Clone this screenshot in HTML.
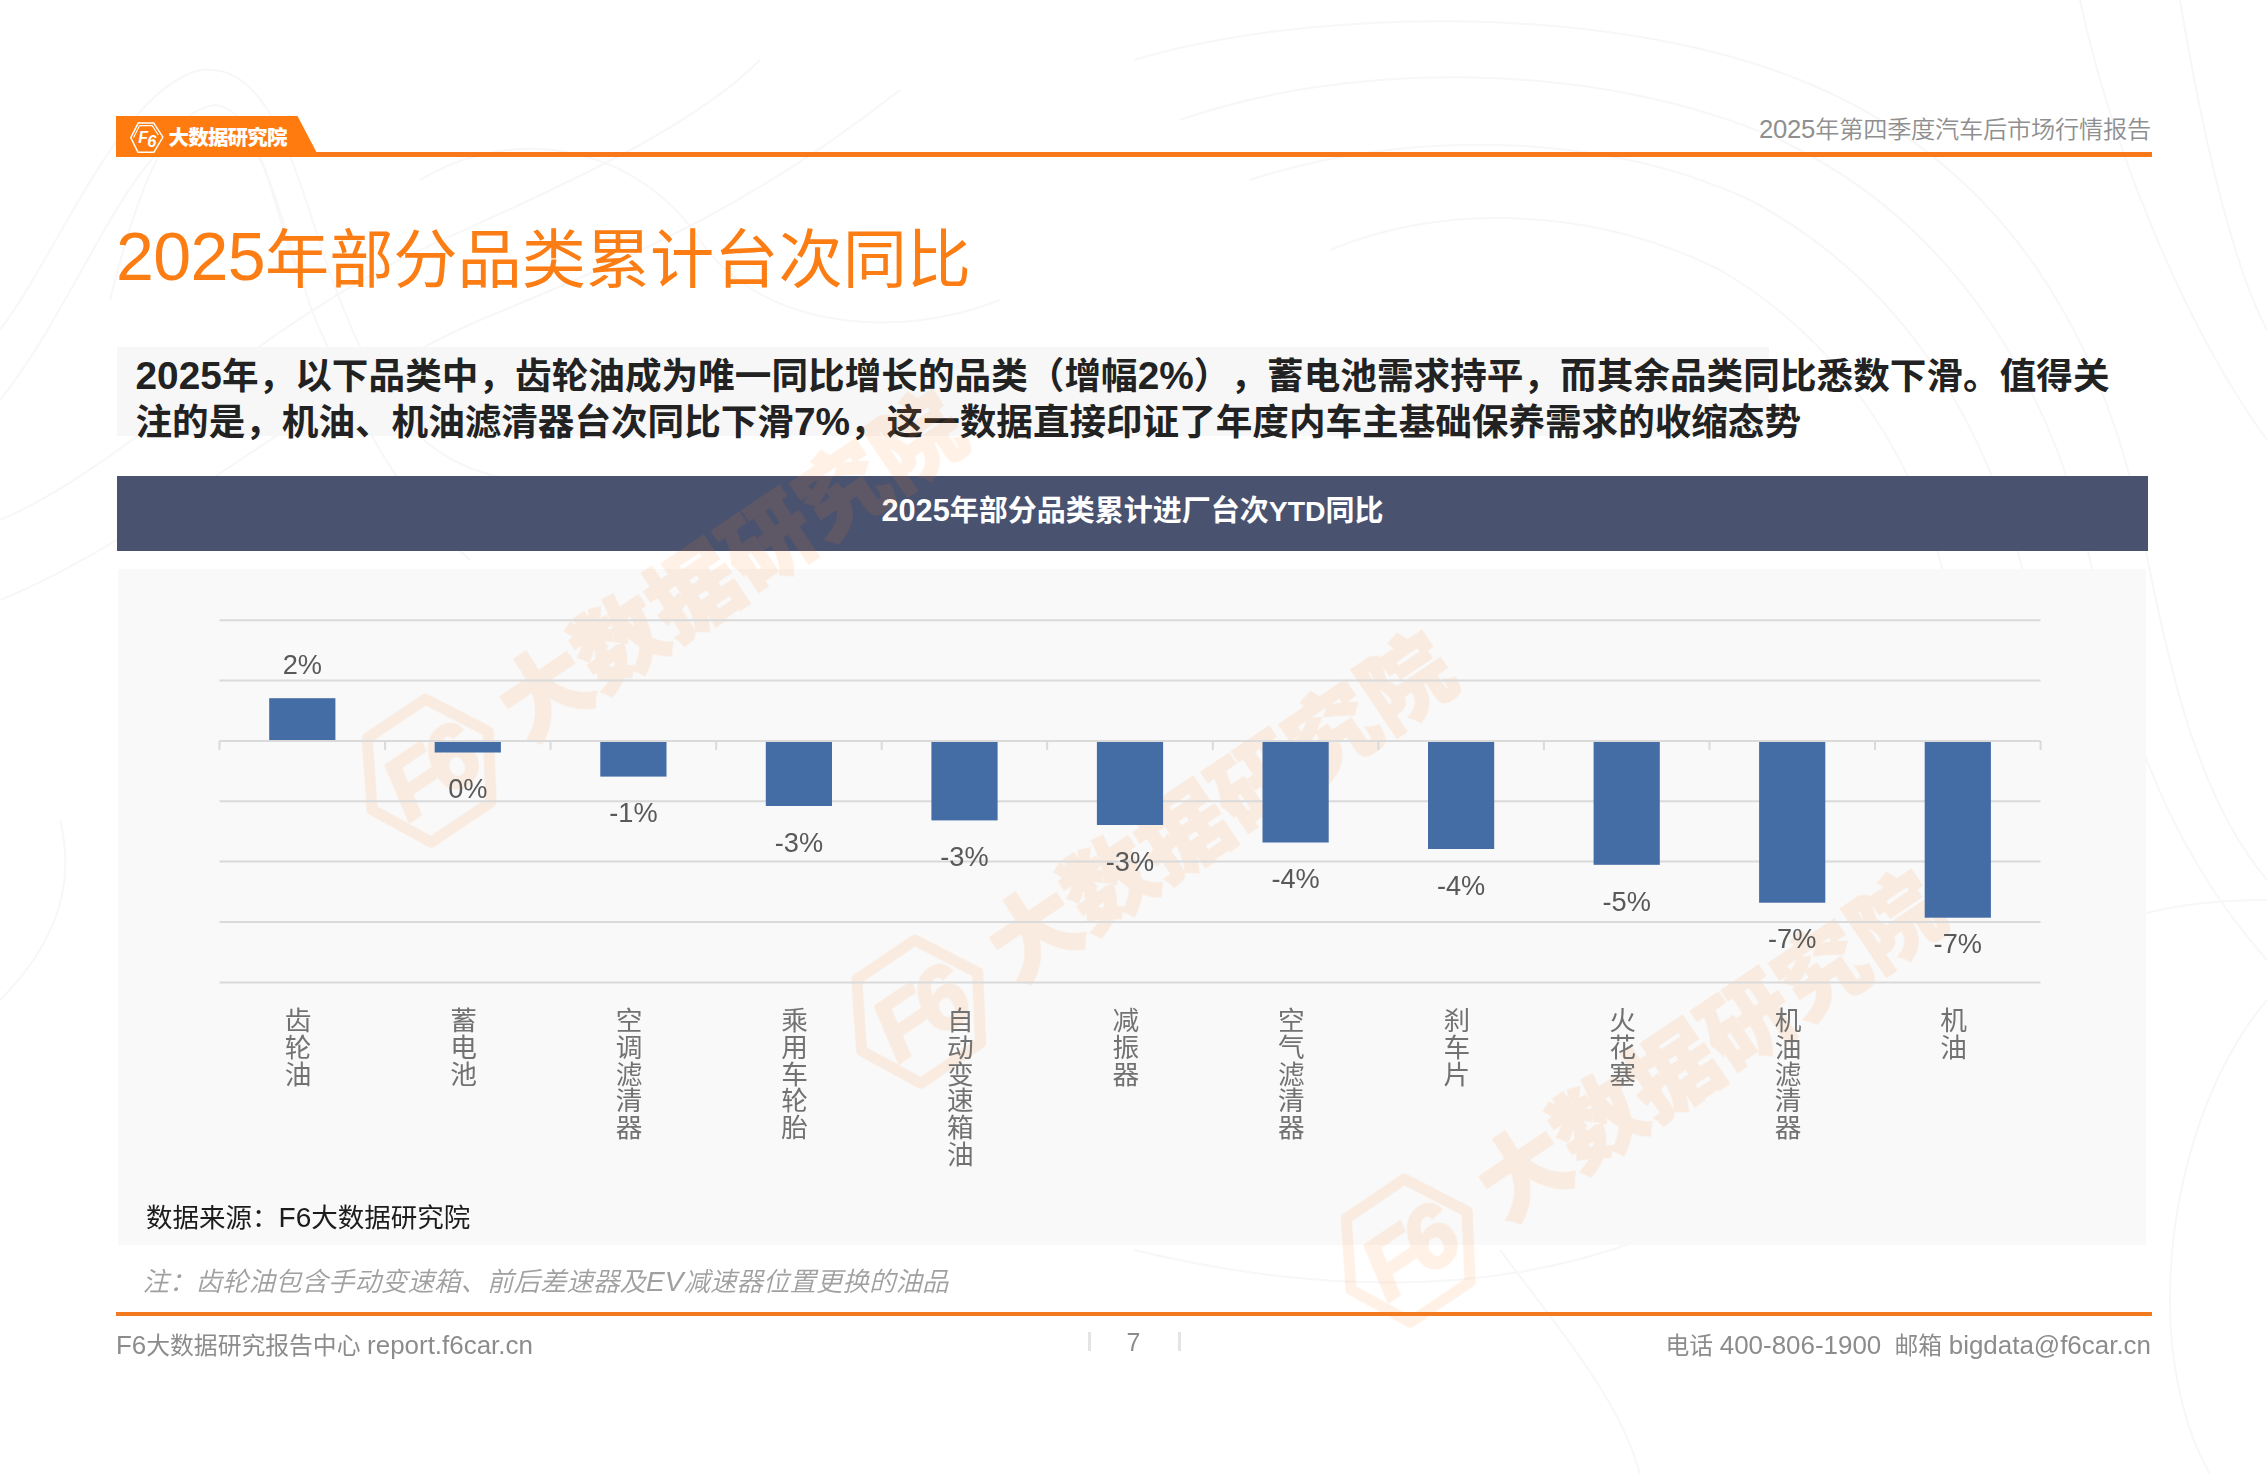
<!DOCTYPE html>
<html lang="zh-CN">
<head>
<meta charset="utf-8">
<title>2025年部分品类累计台次同比</title>
<style>
*{margin:0;padding:0;box-sizing:border-box;}
html,body{width:2267px;height:1474px;background:#fff;overflow:hidden;}
body{position:relative;font-family:"Liberation Sans","Noto Sans CJK SC",sans-serif;color:#222;}
.abs{position:absolute;white-space:nowrap;}
.l{font-size:106%;}
#fl .l,#fr .l{font-size:109%;}
#title .l{position:relative;top:-2px;letter-spacing:-0.6px;}
#bgsvg{position:absolute;left:0;top:0;width:2267px;height:1474px;}
#badge{position:absolute;left:116px;top:116px;width:203px;height:41px;background:#ff7b0f;clip-path:polygon(0 0,181.5px 0,203px 41px,0 41px);}
#hline{position:absolute;left:116px;top:152.4px;width:2035.5px;height:4.8px;background:#f8781a;}
#badgetxt{left:168.5px;top:123px;font-size:20.5px;line-height:30px;font-weight:900;color:#fff;letter-spacing:-0.8px;}
#hdr{right:116px;top:111.7px;font-size:24.2px;line-height:34px;font-weight:350;color:#8f8f8f;letter-spacing:-0.2px;}
#title{left:116px;top:211px;font-size:64.2px;line-height:94px;font-weight:400;color:#fb7d14;letter-spacing:0;}
#tbox{position:absolute;left:117px;top:347px;width:1652px;height:89px;background:#f7f7f7;}
#para{left:135.5px;top:353px;font-size:36.6px;text-spacing-trim:space-all;line-height:45px;font-weight:700;color:#222;}
#nbar{position:absolute;left:117px;top:476px;width:2031px;height:75px;background:#49526f;}
#nbartxt{left:117px;top:476px;width:2031px;height:75px;line-height:70px;text-align:center;font-size:29px;font-weight:700;color:#fff;}
#cbox{position:absolute;left:118px;top:569px;width:2028px;height:676px;background:#f9f9f9;}
#chart{position:absolute;left:0;top:0;width:2267px;height:1474px;}
.cat{position:absolute;top:1008px;width:30px;font-size:26.7px;line-height:26.75px;color:#727272;text-align:center;white-space:normal;word-break:break-all;}
#src{left:146px;top:1197.5px;font-size:26.5px;line-height:40px;color:#1c1c1c;}
#note{left:142.5px;top:1262px;font-size:26.5px;line-height:40px;color:#a0a0a0;font-style:italic;font-weight:350;}
#fline{position:absolute;left:116px;top:1311.5px;width:2035.5px;height:4.8px;background:#f47a20;}
#fl{left:116px;top:1327px;font-size:23.8px;line-height:36px;color:#8c8c8c;}
#fr{right:116px;top:1327px;font-size:23.8px;line-height:36px;color:#8c8c8c;}
#pg{left:1121.5px;top:1324.5px;width:24px;text-align:center;font-size:25px;line-height:34px;color:#8c8c8c;}
.pbar{position:absolute;top:1332px;width:3px;height:18.5px;background:#e4e4e4;}
</style>
</head>
<body>
<svg id="bgsvg" viewBox="0 0 2267 1474" fill="none" stroke="#f7f7f7" stroke-width="2">
<path d="M0 330C60 250 120 90 200 70C280 60 300 200 340 300C380 400 420 470 520 480"/>
<path d="M0 400C80 300 130 140 205 120C270 110 280 240 320 330C360 420 400 500 470 560"/>
<path d="M110 300C140 180 170 110 215 105C260 110 270 200 300 280"/>
<path d="M0 520C120 470 250 330 420 250C600 170 700 120 760 60"/>
<path d="M0 600C150 540 300 400 480 320C650 250 760 200 900 90"/>
<path d="M420 180C520 120 640 150 700 240C760 330 900 340 1000 300"/>
<path d="M1134 60C1300 10 1600 0 1800 80C2000 160 2100 330 2140 520C2170 680 2200 800 2267 880"/>
<path d="M1180 120C1350 60 1600 60 1780 140C1950 220 2050 380 2090 560C2120 700 2160 840 2267 960"/>
<path d="M1250 180C1400 130 1600 130 1750 200C1900 280 1990 420 2030 600"/>
<path d="M1330 250C1450 200 1600 210 1720 270C1840 340 1920 460 1950 600"/>
<path d="M2180 0C2200 120 2230 260 2267 330"/>
<path d="M2080 0C2110 140 2180 320 2267 440"/>
<path d="M2267 1000C2200 1080 2170 1200 2170 1300C2170 1380 2190 1440 2210 1474"/>
<path d="M1500 1250C1560 1330 1620 1400 1640 1474"/>
<path d="M1134 1250C1300 1290 1480 1300 1640 1240C1780 1190 1900 1100 2000 1000C2080 920 2160 900 2267 900"/>
<path d="M0 1000C40 960 80 900 60 820"/>
</svg>

<div id="hline"></div>
<div id="badge"></div>
<svg id="logo" class="abs" style="left:126px;top:118px" width="42" height="38" viewBox="126 118 42 38">
<path d="M138.3 122.9H153.6L162.9 137.2L154 152.2H137.9L130.8 137.6Z" fill="none" stroke="#fff" stroke-width="1.5" stroke-linejoin="round"/>
<path d="M133.6 137.6L139.6 125.6H152.2L158.3 135" fill="none" stroke="#fff" stroke-width="1.1" stroke-linejoin="round"/>
<text x="138.2" y="143.4" font-family="Liberation Sans, sans-serif" font-size="16" font-weight="700" font-style="italic" fill="#fff">F</text>
<text x="147.2" y="147" font-family="Liberation Sans, sans-serif" font-size="16.5" font-weight="700" font-style="italic" fill="#fff">6</text>
</svg>
<div id="badgetxt" class="abs">大数据研究院</div>
<div id="hdr" class="abs"><span class="l">2025</span>年第四季度汽车后市场行情报告</div>

<div id="title" class="abs"><span class="l">2025</span>年部分品类累计台次同比</div>

<div id="tbox"></div>
<div id="para" class="abs"><span style="letter-spacing:0.05px"><span class="l">2025</span>年，以下品类中，齿轮油成为唯一同比增长的品类（增幅<span class="l">2%</span><span style="display:inline-block;width:1em">）</span>，蓄电池需求持平，而其余品类同比悉数下滑。值得关</span><br>注的是，机油、机油滤清器台次同比下滑<span class="l">7%</span>，这一数据直接印证了年度内车主基础保养需求的收缩态势</div>

<div id="nbar"></div>
<div id="nbartxt" class="abs"><span class="l">2025</span>年部分品类累计进厂台次<span style="font-size:98%">YTD</span>同比</div>

<div id="cbox"></div>
<svg id="wmsvg" style="position:absolute;left:0;top:0;width:2267px;height:1474px;pointer-events:none" viewBox="0 0 2267 1474">
<g fill="#ff8a2e" stroke="#ff8a2e" opacity="0.118">
<g transform="translate(429 769) rotate(-34)">
<path d="M-34 -60H36L70 2L33 62H-39L-70 2Z" fill="none" stroke-width="11" stroke-linejoin="round"/>
<text x="-47" y="33" font-family="Liberation Sans, sans-serif" font-size="88" font-weight="700" font-style="italic" stroke-width="3" letter-spacing="-7">F6</text>
<text x="95" y="33" font-family="Noto Sans CJK SC, sans-serif" font-size="89" font-weight="900" stroke-width="2" letter-spacing="0.7">大数据研究院</text>
</g>
<g transform="translate(918.5 1010) rotate(-34)">
<path d="M-34 -60H36L70 2L33 62H-39L-70 2Z" fill="none" stroke-width="11" stroke-linejoin="round"/>
<text x="-47" y="33" font-family="Liberation Sans, sans-serif" font-size="88" font-weight="700" font-style="italic" stroke-width="3" letter-spacing="-7">F6</text>
<text x="95" y="33" font-family="Noto Sans CJK SC, sans-serif" font-size="89" font-weight="900" stroke-width="2" letter-spacing="0.7">大数据研究院</text>
</g>
<g transform="translate(1408 1249) rotate(-34)">
<path d="M-34 -60H36L70 2L33 62H-39L-70 2Z" fill="none" stroke-width="11" stroke-linejoin="round"/>
<text x="-47" y="33" font-family="Liberation Sans, sans-serif" font-size="88" font-weight="700" font-style="italic" stroke-width="3" letter-spacing="-7">F6</text>
<text x="95" y="33" font-family="Noto Sans CJK SC, sans-serif" font-size="89" font-weight="900" stroke-width="2" letter-spacing="0.7">大数据研究院</text>
</g>
</g></svg>
<svg id="chart" viewBox="0 0 2267 1474">
<g stroke="#dadada" stroke-width="2" fill="none">
<path d="M219.5 620.2H2040.5"/>
<path d="M219.5 680.6H2040.5"/>
<path d="M219.5 801.3H2040.5"/>
<path d="M219.5 861.6H2040.5"/>
<path d="M219.5 922H2040.5"/>
<path d="M219.5 982.4H2040.5"/>
<path d="M219.5 741.1H2040.5"/>
<path d="M219.5 741.1v9M385.1 741.1v9M550.6 741.1v9M716.2 741.1v9M881.7 741.1v9M1047.2 741.1v9M1212.8 741.1v9M1378.4 741.1v9M1543.9 741.1v9M1709.5 741.1v9M1875.0 741.1v9M2040.6 741.1v9"/>
</g>
<g fill="#446ca5">
<rect x="269.2" y="698.2" width="66.2" height="41.8"/>
<rect x="434.7" y="742" width="66.2" height="10.5"/>
<rect x="600.3" y="742" width="66.2" height="34.6"/>
<rect x="765.8" y="742" width="66.2" height="64.0"/>
<rect x="931.4" y="742" width="66.2" height="78.4"/>
<rect x="1096.9" y="742" width="66.2" height="83.0"/>
<rect x="1262.5" y="742" width="66.2" height="100.5"/>
<rect x="1428.0" y="742" width="66.2" height="107.0"/>
<rect x="1593.6" y="742" width="66.2" height="122.8"/>
<rect x="1759.1" y="742" width="66.2" height="160.7"/>
<rect x="1924.7" y="742" width="66.2" height="175.7"/>
</g>
<g font-family="Liberation Sans, sans-serif" font-size="27.2" fill="#595959" text-anchor="middle">
<text x="302.3" y="674.1">2%</text>
<text x="467.8" y="798.2">0%</text>
<text x="633.4" y="822.3">-1%</text>
<text x="798.9" y="851.7">-3%</text>
<text x="964.5" y="866.1">-3%</text>
<text x="1130.0" y="870.7">-3%</text>
<text x="1295.6" y="888.2">-4%</text>
<text x="1461.1" y="894.7">-4%</text>
<text x="1626.7" y="910.5">-5%</text>
<text x="1792.2" y="948.4">-7%</text>
<text x="1957.8" y="953.4">-7%</text>
</g>
</svg>

<div class="cat" style="left:283.1px">齿轮油</div>
<div class="cat" style="left:448.6px">蓄电池</div>
<div class="cat" style="left:614.2px">空调滤清器</div>
<div class="cat" style="left:779.7px">乘用车轮胎</div>
<div class="cat" style="left:945.3px">自动变速箱油</div>
<div class="cat" style="left:1110.8px">减振器</div>
<div class="cat" style="left:1276.4px">空气滤清器</div>
<div class="cat" style="left:1441.9px">刹车片</div>
<div class="cat" style="left:1607.5px">火花塞</div>
<div class="cat" style="left:1773.0px">机油滤清器</div>
<div class="cat" style="left:1938.6px">机油</div>
<div id="src" class="abs">数据来源：<span class="l">F6</span>大数据研究院</div>
<div id="note" class="abs">注：齿轮油包含手动变速箱、前后差速器及<span class="l">EV</span>减速器位置更换的油品</div>

<div id="fline"></div>
<div id="fl" class="abs"><span class="l">F6</span>大数据研究报告中心 <span class="l">report.f6car.cn</span></div>
<div class="pbar" style="left:1088px"></div>
<div id="pg" class="abs">7</div>
<div class="pbar" style="left:1178px"></div>
<div id="fr" class="abs">电话 <span class="l">400-806-1900</span>&nbsp; 邮箱 <span class="l">bigdata@f6car.cn</span></div>
</body>
</html>
